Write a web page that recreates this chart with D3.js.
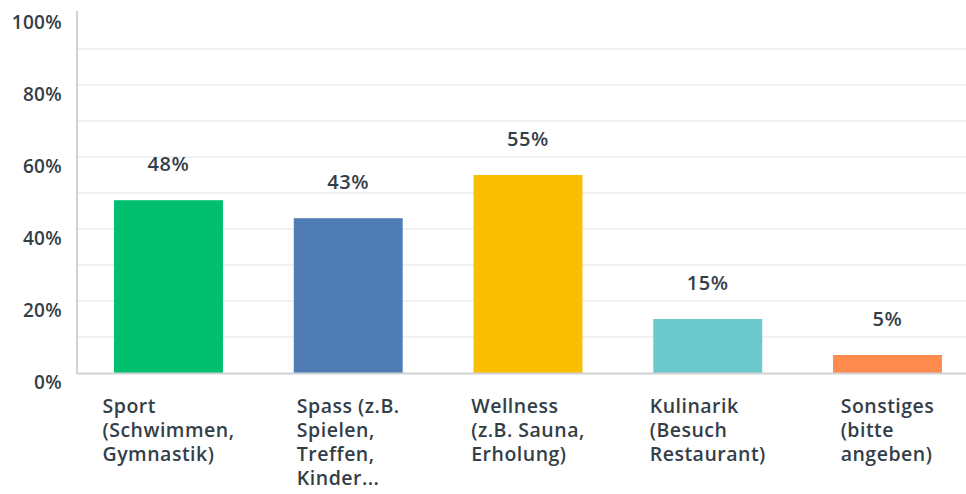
<!DOCTYPE html>
<html>
<head>
<meta charset="utf-8">
<script src="https://cdn.jsdelivr.net/npm/d3@7"></script>
<style>
  body { margin: 0; background: #fff; }
  text { font-family: "Open Sans", sans-serif; fill: #333e48; }
</style>
</head>
<body>
<div id="chart"></div>
<script>
// data
const categories = ["Sport", "Spass", "Wellness", "Kulinarik", "Sonstiges"]
const labelLines = [
  ["Sport", "(Schwimmen,", "Gymnastik)"],
  ["Spass (z.B.", "Spielen,", "Treffen,", "Kinder..."],
  ["Wellness", "(z.B. Sauna,", "Erholung)"],
  ["Kulinarik", "(Besuch", "Restaurant)"],
  ["Sonstiges", "(bitte", "angeben)"]
]
const values = [48, 43, 55, 15, 5]
const colors = ["#00bf6f", "#507cb6", "#f9be00", "#6bc8cd", "#ff8b4f"]
const yTicks = [0, 20, 40, 60, 80, 100]
const gridTicks = [10, 20, 30, 40, 50, 60, 70, 80, 90]

const dims = {
  width: 966,
  height: 494,
  left: 77,
  right: 966,
  top: 13,
  bottom: 373
}

const svg = d3.select("#chart").append("svg")
  .attr("width", dims.width)
  .attr("height", dims.height)

const y = d3.scaleLinear().domain([0, 100]).range([dims.bottom, dims.top])
const x = d3.scaleBand()
  .domain(categories)
  .range([dims.left, 979])
  .paddingInner(0.394)
  .paddingOuter(0.206)

// gridlines
svg.append("g").selectAll("line")
  .data(gridTicks)
  .join("line")
    .attr("x1", dims.left).attr("x2", dims.right)
    .attr("y1", d => y(d)).attr("y2", d => y(d))
    .attr("stroke", "#ededed")
    .attr("stroke-width", 1.5)

// bars
svg.append("g").selectAll("rect")
  .data(values)
  .join("rect")
    .attr("x", (d, i) => x(categories[i]))
    .attr("y", d => y(d))
    .attr("width", x.bandwidth())
    .attr("height", d => dims.bottom - y(d))
    .attr("fill", (d, i) => colors[i])

// axis lines
svg.append("line")
  .attr("x1", dims.left).attr("x2", dims.left)
  .attr("y1", 11).attr("y2", dims.bottom + 1)
  .attr("stroke", "#d0d2d3").attr("stroke-width", 2)
svg.append("line")
  .attr("x1", dims.left).attr("x2", dims.right)
  .attr("y1", dims.bottom + 0.5).attr("y2", dims.bottom + 0.5)
  .attr("stroke", "#d0d2d3").attr("stroke-width", 2)

// y tick labels
svg.append("g").selectAll("text")
  .data(yTicks)
  .join("text")
    .attr("x", 62)
    .attr("y", d => y(d) + 15.5)
    .attr("text-anchor", "end")
    .attr("font-size", 19)
    .attr("font-weight", 600)
    .attr("letter-spacing", 0.3)
    .text(d => d + "%")

// value labels
svg.append("g").selectAll("text")
  .data(values)
  .join("text")
    .attr("x", (d, i) => x(categories[i]) + x.bandwidth() / 2)
    .attr("y", d => y(d) - 29)
    .attr("text-anchor", "middle")
    .attr("font-size", 20)
    .attr("font-weight", 600)
    .attr("letter-spacing", 0.6)
    .text(d => d + "%")

// category labels: left aligned block, centered on bar by widest line
const catG = svg.append("g").selectAll("g")
  .data(labelLines)
  .join("g")

catG.each(function(lines, i) {
  const g = d3.select(this)
  const t = g.append("text")
    .attr("font-size", 19.5)
    .attr("font-weight", 600)
    .attr("letter-spacing", 0.5)
  t.selectAll("tspan")
    .data(lines)
    .join("tspan")
      .attr("x", 0)
      .attr("y", (d, j) => 413 + j * 24)
      .text(d => d)
  const w = d3.max(t.selectAll("tspan").nodes(), n => n.getComputedTextLength())
  const cx = x(categories[i]) + x.bandwidth() / 2
  g.attr("transform", `translate(${cx - w / 2},0)`)
})
</script>
</body>
</html>
